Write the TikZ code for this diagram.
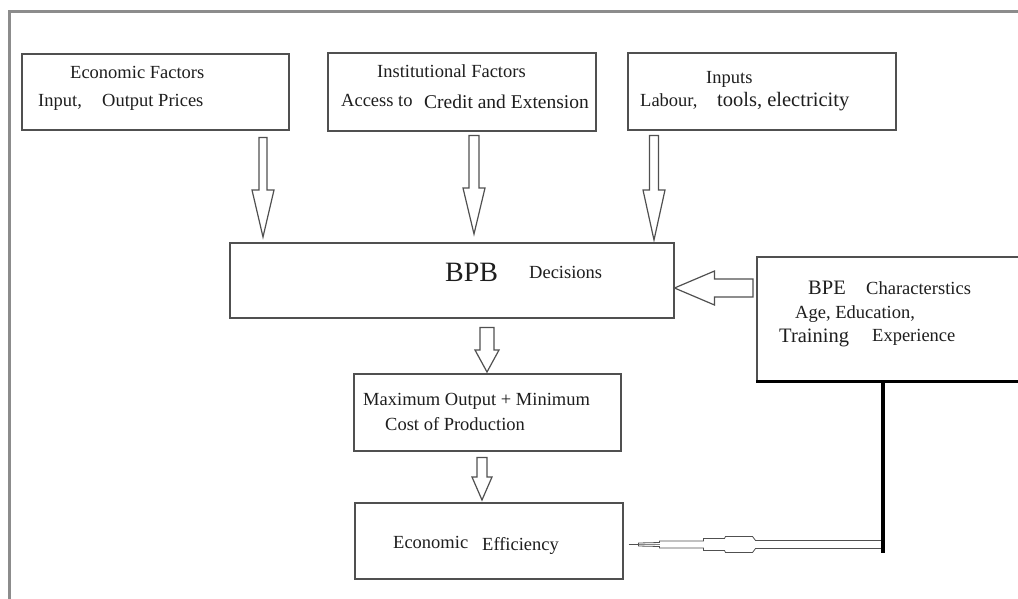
\documentclass[tikz,border=0pt]{standalone}
\usepackage{fontspec}
\setmainfont{Liberation Serif}
\usetikzlibrary{calc}
\definecolor{boxgray}{HTML}{505050}
\definecolor{framegray}{HTML}{8C8C8C}
\definecolor{textcol}{HTML}{1E1E1E}
\newcommand\varrow[5]{\draw[hollow] let \p1=(#1), \p2=(#2) in
 ({\x1-#3pt},\y1) -- ({\x1-#3pt},{\y2+#5pt}) -- ({\x1-#4pt},{\y2+#5pt}) -- (\x2,\y2) --
 ({\x1+#4pt},{\y2+#5pt}) -- ({\x1+#3pt},{\y2+#5pt}) -- ({\x1+#3pt},\y1) -- cycle;}
\newcommand\harrow[5]{\draw[hollow] let \p1=(#1), \p2=(#2) in
 (\x1,{\y1+#3pt}) -- ({\x2+#5pt},{\y1+#3pt}) -- ({\x2+#5pt},{\y1+#4pt}) -- (\x2,\y1) --
 ({\x2+#5pt},{\y1-#4pt}) -- ({\x2+#5pt},{\y1-#3pt}) -- (\x1,{\y1-#3pt}) -- cycle;}
\begin{document}
\begin{tikzpicture}[x=1pt,y=-1pt,
 box/.style={draw=boxgray, line width=1.5pt, inner sep=0pt, anchor=north west},
 txt/.style={anchor=base west, inner sep=0pt, text=textcol, font=\fontsize{18.5}{22}\selectfont},
 bigtxt/.style={txt, font=\fontsize{20.5}{24}\selectfont},
 hugetxt/.style={txt, font=\fontsize{28}{32}\selectfont},
 hollow/.style={draw=boxgray, line width=1.2pt, fill=white, line join=miter}]
\useasboundingbox (0,0) rectangle (1018,598);
\fill[white] (0,0) rectangle (1018,598);
% outer frame
\draw[framegray, line width=3pt] (9,605) -- (9,11) -- (1025,11);
% boxes
\node[box, minimum width=267pt, minimum height=76pt] (econ) at (21,53) {};
\node[box, minimum width=268pt, minimum height=78pt] (inst) at (327,52) {};
\node[box, minimum width=268pt, minimum height=77pt] (inputs) at (627,52) {};
\node[box, minimum width=444pt, minimum height=75pt] (bpb) at (229,242) {};
\node[box, minimum width=280pt, minimum height=124pt] (bpe) at (756,256) {};
\draw[black, line width=3.5pt] (bpe.south west) -- (bpe.south east);
\node[box, minimum width=267pt, minimum height=77pt] (maxo) at (353,373) {};
\node[box, minimum width=268pt, minimum height=76pt] (eff) at (354,502) {};
% texts
\node[txt] (t1) at (70,78) {Economic Factors};
\node[txt] (t2) at (38,106) {Input,};
\node[txt] (t3) at (102,106) {Output Prices};
\node[txt] (t4) at (377,77) {Institutional Factors};
\node[txt] (t5) at (341,106) {Access to};
\node[txt, font=\fontsize{19.5}{23}\selectfont] (t6) at (424,108) {Credit and Extension};
\node[txt] (t7) at (706,83) {Inputs};
\node[txt] (t8) at (640,106) {Labour,};
\node[bigtxt] (t9) at (717,106) {tools, electricity};
\node[hugetxt] (t10) at (445,281) {BPB};
\node[txt] (t11) at (529,278) {Decisions};
\node[bigtxt] (t12) at (808,294) {BPE};
\node[txt] (t13) at (866,294) {Characterstics};
\node[txt] (t14) at (795,318) {Age, Education,};
\node[bigtxt] (t15) at (779,342) {Training};
\node[txt] (t16) at (872,341) {Experience};
\node[txt] (t17) at (363,405) {Maximum Output + Minimum};
\node[txt] (t18) at (385,430) {Cost of Production};
\node[txt] (t19) at (393,548) {Economic};
\node[txt] (t20) at (482,550) {Efficiency};
% arrow columns
\coordinate (c1) at (263,0);
\coordinate (c2) at (474,0);
\coordinate (c3) at (654,0);
\coordinate (c4) at (487,0);
\coordinate (c5) at (482,0);
\coordinate (cL) at (0,288);
\coordinate (cT) at (883,0);
\coordinate (cA) at (0,544.5);
\varrow{$(econ.south -| c1)+(0,7)$}{$(bpb.north -| c1)+(0,-5)$}{4}{11}{47}
\varrow{$(inst.south -| c2)+(0,4)$}{$(bpb.north -| c2)+(0,-8)$}{5}{11}{46}
\varrow{$(inputs.south -| c3)+(0,5)$}{$(bpb.north -| c3)+(0,-2)$}{4.5}{11}{50}
\varrow{$(bpb.south -| c4)+(0,9)$}{$(maxo.north -| c4)+(0,-1)$}{7}{12}{22}
\varrow{$(maxo.south -| c5)+(0,6)$}{$(eff.north -| c5)+(0,-2)$}{5}{10}{23}
\harrow{$(bpe.west |- cL)+(-3,0)$}{$(bpb.east |- cL)$}{9}{17}{40}
% thick black line and thin arrow to efficiency
\coordinate (tipA) at ($(eff.east |- cA)+(5,0)$);
\begin{scope}[shift={(tipA)}]
\draw[boxgray, line width=0.9pt] (0,0) -- (10,0);
\draw[boxgray, line width=0.8pt, fill=white]
 (10,-1.5) -- (31,-2) -- (31,-3.5) -- (75,-3.5) -- (75,-6) -- (96,-6) -- (97,-8) -- (124,-8) -- (127,-4) -- (253,-4)
 -- (253,4) -- (127,4) -- (124,8) -- (97,8) -- (96,6) -- (75,6) -- (75,3.5) -- (31,3.5) -- (31,2) -- (10,1.5) -- cycle;
\draw[boxgray!70, line width=1.2pt] (10,0) -- (31,0);
\end{scope}
\draw[black, line width=4.5pt] (bpe.south -| cT) -- ($(cA -| cT)+(0,8)$) coordinate (tb);
\end{tikzpicture}
\end{document}
